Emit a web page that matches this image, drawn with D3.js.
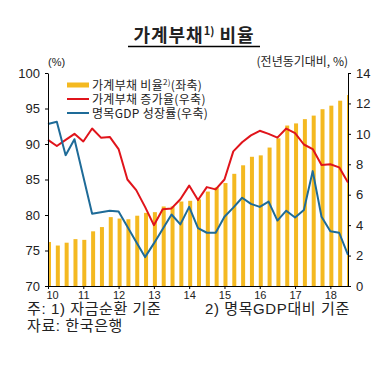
<!DOCTYPE html>
<html>
<head>
<meta charset="utf-8">
<script src="https://d3js.org/d3.v7.min.js"></script>
<style>
  body { margin: 0; background: #fff; }
  svg { display: block; }
  text { font-family: "Liberation Sans", Arial, "Noto Sans CJK KR", sans-serif; fill: #222; }
</style>
</head>
<body>
<script>
// quarters 2010.1Q - 2018.3Q
const quarters = [];
for (let y = 10; y <= 18; y++) {
    for (let q = 1; q <= 4; q++) {
        if (y === 18 && q > 3) break;
        quarters.push(`${y}.${q}Q`);
    }
}
const yearLabels = ['10', '11', '12', '13', '14', '15', '16', '17', '18'];

// household debt / nominal GDP (%), left axis
const debtRatio = [
    76.2, 75.7, 76.1, 76.6, 76.5, 77.7, 78.3, 79.7, 79.5, 79.4,
    79.9, 80.3, 80.4, 81.2, 81.2, 81.9, 82.0, 82.2, 83.3, 83.9,
    84.5, 85.8, 87.0, 88.2, 88.4, 89.5, 90.8, 92.6, 92.9, 93.5,
    94.0, 94.9, 95.4, 96.1, 96.9
];
// household debt growth (yoy, %), right axis
const debtGrowth = [
    9.6, 9.2, 9.6, 10.0, 9.5, 10.35, 9.75, 9.8, 9.0, 7.0,
    6.3, 5.2, 4.0, 5.05, 5.1, 5.7, 6.6, 5.65, 6.5, 6.35,
    7.0, 8.85, 9.45, 9.9, 10.2, 10.0, 9.75, 10.35, 10.05, 9.3,
    9.0, 7.95, 8.0, 7.8, 6.8
];
// nominal GDP growth (yoy, %), right axis
const gdpGrowth = [
    10.65, 10.8, 8.6, 9.65, 7.2, 4.75, 4.85, 4.95, 4.9, 3.9,
    2.9, 1.9, 2.8, 3.75, 4.7, 4.05, 5.2, 3.8, 3.5, 3.5,
    4.55, 5.15, 5.8, 5.4, 5.2, 5.55, 4.3, 4.95, 4.5, 5.0,
    7.55, 4.55, 3.6, 3.5, 2.05
];

const width = 392, height = 369;
const plot = { left: 48, right: 348, top: 73, bottom: 286 };
const colors = { bar: '#F4B920', red: '#E0141B', blue: '#1E6B98' };
const korean = '"Noto Sans CJK KR", sans-serif';

const svg = d3.select('body').append('svg')
    .attr('width', width)
    .attr('height', height);

const x = d3.scalePoint()
    .domain(quarters)
    .range([plot.left, plot.right]);
const yLeft = d3.scaleLinear().domain([70, 100]).range([plot.bottom, plot.top]);
const yRight = d3.scaleLinear().domain([0, 14]).range([plot.bottom, plot.top]);

// clip for bars
svg.append('defs').append('clipPath')
    .attr('id', 'plot-clip')
    .append('rect')
    .attr('x', plot.left)
    .attr('y', plot.top)
    .attr('width', plot.right - plot.left)
    .attr('height', plot.bottom - plot.top);

// title
const title = svg.append('text')
    .attr('x', 194)
    .attr('y', 42)
    .attr('text-anchor', 'middle')
    .style('font-size', '18px')
    .style('font-weight', 'bold')
    .style('letter-spacing', '1px')
    .style('font-family', korean);
title.append('tspan').text('가계부채');
title.append('tspan').attr('dy', -7).style('font-size', '11px').style('letter-spacing', '0px').text('1)');
title.append('tspan').attr('dy', 7).text('  비율');
svg.append('line')
    .attr('x1', 128).attr('x2', 260)
    .attr('y1', 46.5).attr('y2', 46.5)
    .attr('stroke', '#000')
    .attr('stroke-width', 1.5);

// unit labels
svg.append('text').attr('x', 48).attr('y', 66)
    .style('font-size', '11px').text('(%)');
svg.append('text').attr('x', 348).attr('y', 66)
    .attr('text-anchor', 'end')
    .style('font-size', '12px')
    .style('font-family', korean)
    .text('(전년동기대비, %)');

// bars
const barWidth = 4;
svg.append('g')
    .attr('clip-path', 'url(#plot-clip)')
    .selectAll('rect')
    .data(debtRatio)
    .enter()
    .append('rect')
    .attr('x', (d, i) => x(quarters[i]) - barWidth / 2 + 1)
    .attr('y', d => yLeft(d))
    .attr('width', barWidth)
    .attr('height', d => plot.bottom - yLeft(d))
    .attr('fill', colors.bar);

// lines
const lineRight = d3.line()
    .x((d, i) => x(quarters[i]))
    .y(d => yRight(d));
svg.append('path')
    .datum(debtGrowth)
    .attr('d', lineRight)
    .attr('fill', 'none')
    .attr('stroke', colors.red)
    .attr('stroke-width', 2)
    .attr('stroke-linejoin', 'round');
svg.append('path')
    .datum(gdpGrowth)
    .attr('d', lineRight)
    .attr('fill', 'none')
    .attr('stroke', colors.blue)
    .attr('stroke-width', 2)
    .attr('stroke-linejoin', 'round');

// axes
const axisLeft = d3.axisLeft(yLeft).tickValues(d3.range(70, 101, 5))
    .tickSizeInner(3).tickSizeOuter(0).tickPadding(5);
const axisRight = d3.axisRight(yRight).tickValues(d3.range(0, 15, 2))
    .tickSizeInner(3).tickSizeOuter(0).tickPadding(5);
const yearTicks = quarters.filter(q => q.endsWith('.1Q'));
const axisBottom = d3.axisBottom(x).tickValues(yearTicks)
    .tickFormat(q => yearLabels[yearTicks.indexOf(q)])
    .tickSizeInner(3).tickSizeOuter(0).tickPadding(2);

const styleAxis = (g) => {
    g.select('.domain').attr('stroke', '#000');
    g.selectAll('.tick line').attr('stroke', '#000');
    g.selectAll('.tick text')
        .attr('fill', '#333')
        .style('font-size', '13px')
        .style('font-family', '"Liberation Sans", Arial, sans-serif');
};
svg.append('g').attr('transform', `translate(${plot.left},0)`).call(axisLeft).call(styleAxis);
svg.append('g').attr('transform', `translate(${plot.right},0)`).call(axisRight).call(styleAxis);
const bottom = svg.append('g').attr('transform', `translate(0,${plot.bottom})`).call(axisBottom).call(styleAxis);
bottom.selectAll('.tick text').style('font-size', '11px');
// first year label sits a bit inside
bottom.selectAll('.tick text').filter(q => q === yearTicks[0]).attr('dx', 4);

// legend
const legendItems = [
    { label: '가계부채 비율', sup: '2)', tail: '(좌축)', color: colors.bar, type: 'bar' },
    { label: '가계부채 증가율(우축)', color: colors.red, type: 'line' },
    { label: '명목GDP 성장률(우축)', color: colors.blue, type: 'line' }
];
const legend = svg.append('g').attr('transform', 'translate(67,85)');
legendItems.forEach((item, i) => {
    const row = legend.append('g').attr('transform', `translate(0,${i * 14})`);
    if (item.type === 'bar') {
        row.append('rect').attr('x', 0).attr('y', -2.5).attr('width', 22).attr('height', 5)
            .attr('fill', item.color);
    } else {
        row.append('line').attr('x1', 0).attr('x2', 22).attr('y1', 0).attr('y2', 0)
            .attr('stroke', item.color).attr('stroke-width', 2);
    }
    const t = row.append('text').attr('x', 25).attr('y', 4.5)
        .style('font-size', '12px')
        .style('letter-spacing', '0.3px')
        .style('font-family', korean);
    t.append('tspan').text(item.label);
    if (item.sup) {
        t.append('tspan').attr('dy', -5).style('font-size', '8px').text(item.sup);
        t.append('tspan').attr('dy', 5).text(item.tail);
    }
});

// footnotes
const notes = svg.append('g')
    .style('font-size', '15px')
    .style('letter-spacing', '0.6px')
    .style('font-family', korean);
notes.append('text').attr('x', 27).attr('y', 314).text('주: 1) 자금순환 기준');
notes.append('text').attr('x', 205).attr('y', 314).text('2) 명목GDP대비 기준');
notes.append('text').attr('x', 27).attr('y', 331).text('자료: 한국은행');
</script>
</body>
</html>
